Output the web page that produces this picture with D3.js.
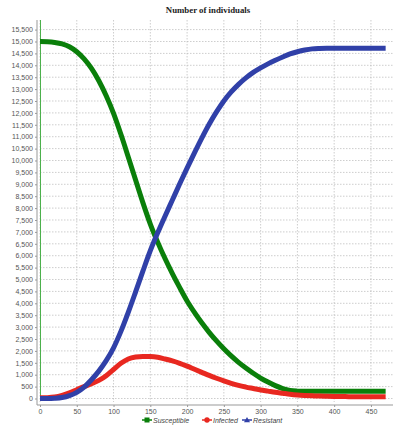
<!DOCTYPE html>
<html><head><meta charset="utf-8">
<script src="https://cdn.jsdelivr.net/npm/d3@7"></script>
<style>body{margin:0;background:#fff}svg{display:block}</style>
</head><body>
<script>
const title = "Number of individuals";
const seriesNames = ["Susceptible", "Infected", "Resistant"];
const time = [0,10,20,30,40,50,60,70,80,90,100,110,120,130,140,150,160,170,180,190,200,210,220,230,240,250,260,270,280,290,300,310,320,330,340,350,360,370,380,390,400,410,420,430,440,450,460,470];
const susceptible = [15000,14990,14960,14900,14780,14570,14270,13870,13350,12720,11980,11100,10150,9180,8220,7330,6570,5880,5250,4660,4100,3620,3180,2780,2420,2090,1790,1520,1280,1060,860,690,540,420,340,310,300,300,300,300,300,300,300,300,300,300,300,300];
const infected = [30,35,60,130,240,370,500,620,760,960,1220,1480,1660,1740,1765,1760,1730,1660,1580,1480,1360,1230,1100,970,850,740,640,550,480,420,360,310,260,220,180,150,130,115,100,92,85,80,78,75,73,72,70,70];
const resistant = [0,0,10,40,120,260,480,790,1150,1590,2130,2820,3620,4480,5360,6210,6960,7660,8340,9020,9680,10320,10940,11520,12040,12500,12880,13200,13470,13700,13890,14060,14210,14350,14480,14570,14640,14690,14710,14720,14720,14720,14720,14720,14720,14720,14720,14720];
const xTicks = [0,50,100,150,200,250,300,350,400,450];
const yTicks = d3.range(0, 15501, 500);
const colors = ["#0a7f0a", "#e82820", "#3040a8"];

const W = 395, H = 427;
const pLeft = 40, pRight = 393, pTop = 20, pBottom = 402;
const svg = d3.select("body").append("svg").attr("width", W).attr("height", H);
const x = d3.scaleLinear().domain([0, 480]).range([pLeft, pRight]);
const y = d3.scaleLinear().domain([-147, 15903]).range([pBottom, pTop]);

// grid
const g = svg.append("g");
g.selectAll(".vg").data(xTicks).join("line")
  .attr("x1", d => x(d)).attr("x2", d => x(d)).attr("y1", pTop).attr("y2", pBottom)
  .attr("stroke", "#b8b8b8").attr("stroke-width", 0.7).attr("stroke-dasharray", "1.5,1.5");
g.selectAll(".hg").data(yTicks).join("line")
  .attr("x1", pLeft).attr("x2", pRight).attr("y1", d => y(d)).attr("y2", d => y(d))
  .attr("stroke", "#b8b8b8").attr("stroke-width", 0.7).attr("stroke-dasharray", "1.5,1.5");

// green zero line
svg.append("line").attr("x1", x(0)+0.5).attr("x2", x(0)+0.5).attr("y1", pTop).attr("y2", y(0))
  .attr("stroke", "#4cb04c").attr("stroke-width", 1);

// axes
const yAxis = d3.axisLeft(y).tickValues(yTicks).tickSize(2).tickPadding(2).tickFormat(d3.format(","));
const yg = svg.append("g").attr("transform", `translate(${pLeft-3},0)`).call(yAxis);
yg.select(".domain").attr("d", `M0,${pTop}V${pBottom+3}`).attr("stroke", "#999");
const xAxis = d3.axisBottom(x).tickValues(xTicks).tickSize(2).tickPadding(2);
const xg = svg.append("g").attr("transform", `translate(0,${pBottom+3})`).call(xAxis);
xg.select(".domain").attr("d", `M${pLeft-3},0H${pRight}`).attr("stroke", "#999");
svg.selectAll(".tick line").attr("stroke", "#999");
svg.selectAll(".tick text").attr("font-family", "Liberation Sans, Arial, sans-serif").attr("font-size", 7).attr("fill", "#555");

// series
const series = [susceptible, infected, resistant];
const line = d3.line().x((d, i) => x(time[i])).y(d => y(d)).curve(d3.curveMonotoneX);
series.forEach((s, k) => {
  svg.append("path").attr("d", line(s)).attr("fill", "none")
    .attr("stroke", colors[k]).attr("stroke-width", 5).attr("stroke-linejoin", "round");
});

// title
svg.append("text").attr("x", 208).attr("y", 12.5).attr("text-anchor", "middle")
  .attr("font-family", "Liberation Serif, Times New Roman, serif").attr("font-weight", "bold")
  .attr("font-size", 8.8).attr("fill", "#222").text(title);

// legend
const legX = [147, 207, 247];
const lg = svg.append("g");
seriesNames.forEach((n, k) => {
  const cx = legX[k], cy = 420;
  lg.append("line").attr("x1", cx-5).attr("x2", cx+5).attr("y1", cy).attr("y2", cy).attr("stroke", colors[k]).attr("stroke-width", 1.5);
  if (k === 0) lg.append("rect").attr("x", cx-2.5).attr("y", cy-2.5).attr("width", 5).attr("height", 5).attr("fill", colors[k]);
  if (k === 1) lg.append("circle").attr("cx", cx).attr("cy", cy).attr("r", 2.7).attr("fill", colors[k]);
  if (k === 2) lg.append("path").attr("d", `M${cx},${cy-3}L${cx+3},${cy+2.2}L${cx-3},${cy+2.2}Z`).attr("fill", colors[k]);
  lg.append("text").attr("x", cx+6).attr("y", cy+2.5).attr("font-family", "Liberation Sans, Arial, sans-serif")
    .attr("font-style", "italic").attr("font-size", 7).attr("fill", "#444").text(n);
});
</script>
</body></html>
